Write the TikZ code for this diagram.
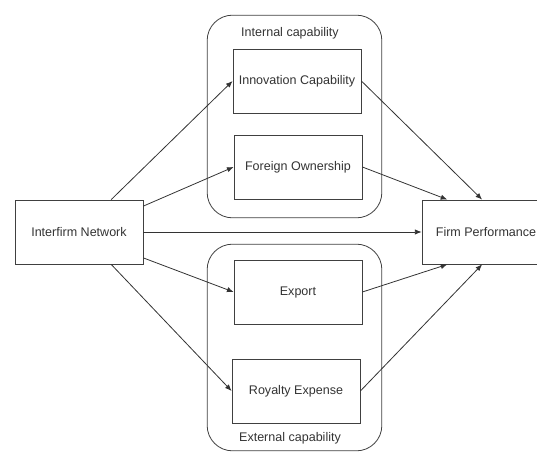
\documentclass[tikz,border=0pt]{standalone}
\usepackage{fontspec}
\setmainfont{Liberation Sans}
\usetikzlibrary{calc,arrows.meta}

\begin{document}
\begin{tikzpicture}[x=0.75pt,y=-0.75pt,
    box/.style={draw=black!75, line width=0.6pt, fill=white, text=black!80,
      minimum width=96pt, minimum height=48pt, inner sep=2pt,
      font=\fontsize{9.4}{11}\selectfont},
    group/.style={draw=black!75, line width=0.6pt, rounded corners=19pt,
      minimum width=131pt, minimum height=152pt},
    grouptext/.style={text=black!80, font=\fontsize{9.4}{11}\selectfont},
    link/.style={draw=black!80, line width=0.6pt, -{Latex[length=5pt,width=4pt]}}]
  \useasboundingbox (0,0) rectangle (537,453);
  \clip (0,0) rectangle (537,453);
  % capability groups
  \node[group] (intcap) at (294.5,116.5) {};
  \node[group, minimum height=155pt] (extcap) at (294.5,347.5) {};
  \node[grouptext] (inttext) at (290,33) {Internal capability};
  \node[grouptext] (exttext) at (290,438) {External capability};
  % boxes
  \node[box] (inter) at (79,232) {Interfirm Network};
  \node[box] (innov) at (297,81) {Innovation Capability};
  \node[box] (foreign) at (298,167) {Foreign Ownership};
  \node[box] (export) at (298,292) {Export};
  \node[box] (royalty) at (296,391) {Royalty Expense};
  \node[box] (firm) at (486,232) {Firm Performance};
  % network -> capabilities
  \draw[link] ($(inter.north)!0.5!(inter.north east)$) -- (innov.west);
  \draw[link] ($(inter.north east)!0.2!(inter.east)$) -- (foreign.west);
  \draw[link] (inter.east) -- (firm.west);
  \draw[link] ($(inter.south east)!0.2!(inter.east)$) -- (export.west);
  \draw[link] ($(inter.south)!0.5!(inter.south east)$) -- (royalty.west);
  % capabilities -> performance
  \draw[link] (innov.east) -- ($(firm.north west)!0.47!(firm.north east)$);
  \draw[link] (foreign.east) -- ($(firm.north west)!0.2!(firm.north east)$);
  \draw[link] (export.east) -- ($(firm.south west)!0.2!(firm.south east)$);
  \draw[link] (royalty.east) -- ($(firm.south west)!0.47!(firm.south east)$);
\end{tikzpicture}
\end{document}
